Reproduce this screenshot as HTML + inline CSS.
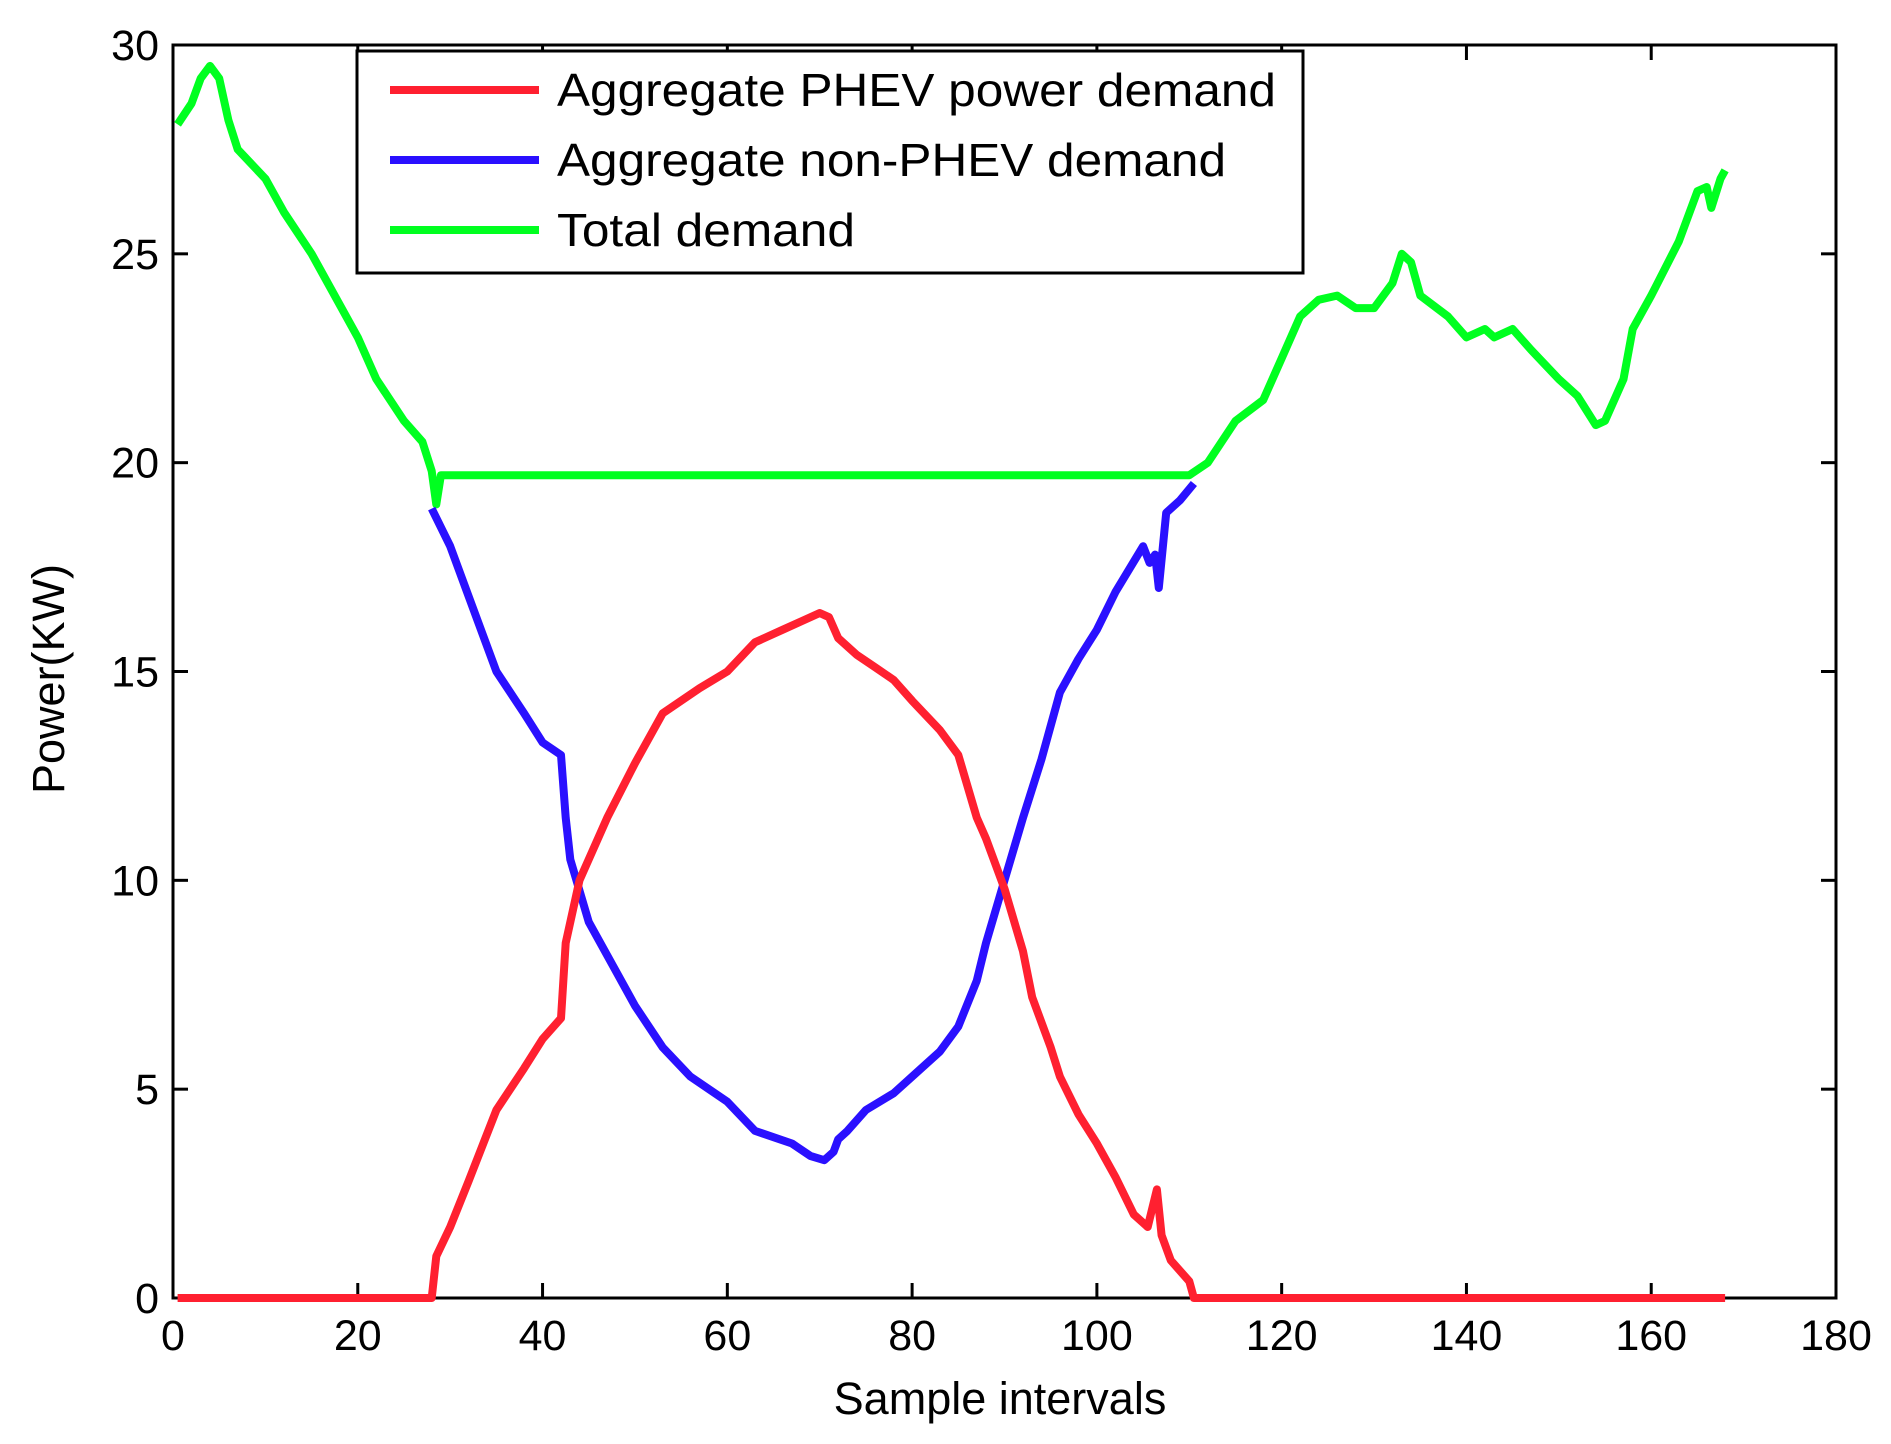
<!DOCTYPE html>
<html><head><meta charset="utf-8"><style>
html,body{margin:0;padding:0;background:#fff;}
svg{display:block;}
text{font-family:"Liberation Sans",Arial,sans-serif;fill:#000;}
</style></head><body>
<svg width="1891" height="1444" viewBox="0 0 1891 1444" xmlns="http://www.w3.org/2000/svg">
<rect width="1891" height="1444" fill="#fff"/>
<g id="plot"></g>
<script>
var X0=173,X1=1836,Y0=1298,Y1=45;
function sx(v){return X0+(X1-X0)*v/180;}
function sy(v){return Y0-(Y0-Y1)*v/30;}
var ns="http://www.w3.org/2000/svg",g=document.getElementById('plot');
function el(t,a,txt){var e=document.createElementNS(ns,t);for(var k in a)e.setAttribute(k,a[k]);if(txt!==undefined)e.textContent=txt;g.appendChild(e);return e;}
function pts(d){return d.map(function(p){return sx(p[0]).toFixed(1)+','+sy(p[1]).toFixed(1);}).join(' ');}
var green=[[0.5,28.1],[2,28.6],[3,29.2],[4,29.5],[5,29.2],[6,28.2],[7,27.5],[10,26.8],[12,26],[15,25],[20,23],[22,22],[25,21],[27,20.5],[28,19.8],[28.5,19],[29,19.7],[110,19.7],[112,20],[115,21],[118,21.5],[120,22.5],[122,23.5],[124,23.9],[126,24],[128,23.7],[130,23.7],[132,24.3],[133,25],[134,24.8],[135,24],[138,23.5],[140,23],[142,23.2],[143,23],[145,23.2],[147,22.7],[150,22],[152,21.6],[154,20.9],[155,21],[157,22],[158,23.2],[160,24],[163,25.3],[165,26.5],[166,26.6],[166.5,26.1],[167.5,26.8],[168,27]];
var blue=[[28,18.9],[30,18],[32,16.8],[35,15],[38,14],[40,13.3],[42,13],[42.5,11.5],[43,10.5],[45,9],[48,7.8],[50,7],[53,6],[56,5.3],[60,4.7],[63,4],[67,3.7],[69,3.4],[70.5,3.3],[71.5,3.5],[72,3.8],[73,4],[75,4.5],[78,4.9],[80,5.3],[83,5.9],[85,6.5],[87,7.6],[88,8.5],[90,10],[92,11.5],[94,12.9],[96,14.5],[98,15.3],[100,16],[102,16.9],[105,18],[105.7,17.6],[106.3,17.8],[106.7,17],[107.5,18.8],[109,19.1],[110.5,19.5]];
var red=[[0.5,0],[28,0],[28.5,1],[30,1.7],[32,2.8],[35,4.5],[38,5.5],[40,6.2],[42,6.7],[42.5,8.5],[44,10],[47,11.5],[50,12.8],[53,14],[57,14.6],[60,15],[63,15.7],[66,16],[68,16.2],[70,16.4],[71,16.3],[72,15.8],[74,15.4],[76,15.1],[78,14.8],[80,14.3],[83,13.6],[85,13],[87,11.5],[88,11],[90,9.8],[92,8.3],[93,7.2],[95,6],[96,5.3],[98,4.4],[100,3.7],[102,2.9],[104,2],[105.5,1.7],[106.5,2.6],[107,1.5],[108,0.9],[110,0.4],[110.5,0],[168,0]];
el('rect',{x:X0,y:Y1,width:X1-X0,height:Y0-Y1,fill:'none',stroke:'#000','stroke-width':3});
for(var i=0;i<=180;i+=20){var x=sx(i);
 if(i>0&&i<180){el('line',{x1:x,y1:Y0,x2:x,y2:Y0-15,stroke:'#000','stroke-width':3});el('line',{x1:x,y1:Y1,x2:x,y2:Y1+15,stroke:'#000','stroke-width':3});}
 el('text',{x:x,y:Y0+52,'font-size':43,'text-anchor':'middle'},String(i));}
for(var j=0;j<=30;j+=5){var y=sy(j);
 if(j>0&&j<30){el('line',{x1:X0,y1:y,x2:X0+15,y2:y,stroke:'#000','stroke-width':3});el('line',{x1:X1,y1:y,x2:X1-15,y2:y,stroke:'#000','stroke-width':3});}
 el('text',{x:X0-14,y:y+15,'font-size':43,'text-anchor':'end'},String(j));}
el('polyline',{points:pts(green),fill:'none',stroke:'#00ff20','stroke-width':8,'stroke-linejoin':'round'});
el('polyline',{points:pts(blue),fill:'none',stroke:'#2a10ff','stroke-width':8,'stroke-linejoin':'round'});
el('polyline',{points:pts(red),fill:'none',stroke:'#ff2030','stroke-width':8,'stroke-linejoin':'round'});
el('rect',{x:357,y:51,width:946,height:222,fill:'#fff',stroke:'#000','stroke-width':3});
var L=[['Aggregate PHEV power demand','#ff2030',719],['Aggregate non-PHEV demand','#2a10ff',669],['Total demand','#00ff20',298]];
L.forEach(function(l,k){var y=90+k*70;
 el('line',{x1:390,y1:y,x2:539,y2:y,stroke:l[1],'stroke-width':8});
 el('text',{x:557,y:y+16,'font-size':46,textLength:l[2],lengthAdjust:'spacingAndGlyphs'},l[0]);});
el('text',{x:1000,y:1414,'font-size':45,'text-anchor':'middle'},'Sample intervals');
el('text',{x:0,y:0,'font-size':45,'text-anchor':'middle',transform:'translate(64,679) rotate(-90)'},'Power(KW)');
</script>
</svg>
</body></html>
